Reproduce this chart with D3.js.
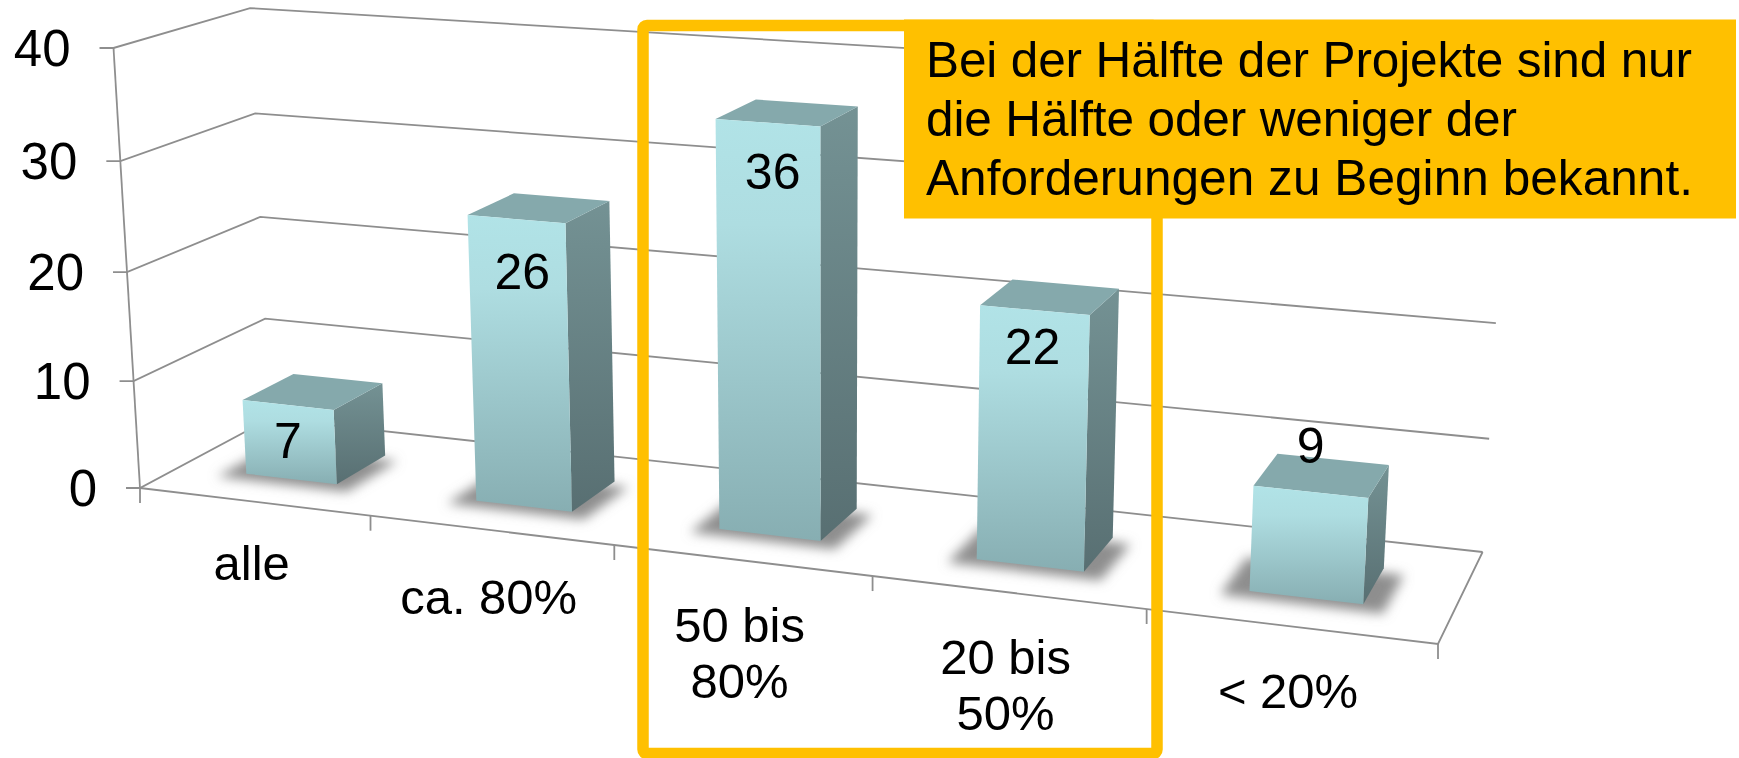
<!DOCTYPE html>
<html>
<head>
<meta charset="utf-8">
<script src="https://cdn.jsdelivr.net/npm/d3@7"></script>
<style>
  html, body { margin: 0; padding: 0; background: #fff; overflow: hidden; }
  text { font-family: "Liberation Sans", Arial, sans-serif; fill: #000; }
</style>
</head>
<body>
<div id="chart"></div>
<script>
const categories = ["alle", "ca. 80%", "50 bis\n80%", "20 bis\n50%", "< 20%"];
const values = [7, 26, 36, 22, 9];
const yTicks = [0, 10, 20, 30, 40];
const noteLines = [
  "Bei der Hälfte der Projekte sind nur",
  "die Hälfte oder weniger der",
  "Anforderungen zu Beginn bekannt."
];

const width = 1739;
const height = 758;

const svg = d3.select("#chart").append("svg")
  .attr("width", width)
  .attr("height", height)
  .style("display", "block");

// maps the unit square on the floor quad, returns x, y and the perspective weight
function quadMap(p0, p1, p2, p3) {
  const dx1 = p1[0] - p2[0], dx2 = p3[0] - p2[0], sx = p0[0] - p1[0] + p2[0] - p3[0];
  const dy1 = p1[1] - p2[1], dy2 = p3[1] - p2[1], sy = p0[1] - p1[1] + p2[1] - p3[1];
  const det = dx1 * dy2 - dx2 * dy1;
  const g = (sx * dy2 - dx2 * sy) / det;
  const h = (dx1 * sy - sx * dy1) / det;
  const a = p1[0] - p0[0] + g * p1[0], b = p3[0] - p0[0] + h * p3[0];
  const d = p1[1] - p0[1] + g * p1[1], e = p3[1] - p0[1] + h * p3[1];
  return (u, w) => ({ xw: a * u + b * w + p0[0], yw: d * u + e * w + p0[1], q: g * u + h * w + 1 });
}

// corners: front left, front right, back right, back left
const floorMap = quadMap([140, 488], [1438, 644], [1482.6, 552], [270, 418.6]);
// vertical edges run towards this point far below the chart
const vanish = [826, 11886];

const x = d3.scaleBand().domain(categories).range([0, 1])
  .paddingInner(0.6).paddingOuter(0.3).align(0.49);
const y = d3.scaleLinear().domain([0, 40]).range([0, -0.03717]);
const depth = d3.scaleLinear().domain([0, 1]).range([0.3, 0.7]);

function project(u, w, v) {
  const p = floorMap(u, w);
  const k = y(v);
  return [(p.xw + k * vanish[0]) / (p.q + k), (p.yw + k * vanish[1]) / (p.q + k)];
}

const defs = svg.append("defs");

const frontGrad = defs.append("linearGradient").attr("id", "front")
  .attr("x1", 0).attr("y1", 0).attr("x2", 0).attr("y2", 1);
frontGrad.append("stop").attr("offset", "0").attr("stop-color", "#b1e3e7");
frontGrad.append("stop").attr("offset", "0.25").attr("stop-color", "#aedde1");
frontGrad.append("stop").attr("offset", "1").attr("stop-color", "#87aeb2");

const sideGrad = defs.append("linearGradient").attr("id", "side")
  .attr("x1", 0).attr("y1", 0).attr("x2", 0).attr("y2", 1);
sideGrad.append("stop").attr("offset", "0").attr("stop-color", "#749294");
sideGrad.append("stop").attr("offset", "1").attr("stop-color", "#586f72");

defs.append("filter").attr("id", "soft")
  .attr("x", "-20%").attr("y", "-40%").attr("width", "140%").attr("height", "180%")
  .append("feGaussianBlur").attr("stdDeviation", 6);

const gridColor = "#8e8e8e";
const line = d3.line();
const grid = svg.append("g").attr("fill", "none").attr("stroke", gridColor).attr("stroke-width", 1.8);

// back wall, side wall and their tick marks
yTicks.forEach(v => {
  const front = project(0, 0, v);
  grid.append("path").attr("d", line([
    [front[0] - 14, front[1]], front, project(0, 1, v), project(1, 1, v)
  ]));
});
grid.append("path").attr("d", line([project(0, 0, 0), project(0, 0, 40)]));

// floor edges and category ticks
grid.append("path").attr("d", line([project(0, 0, 0), project(1, 0, 0), project(1, 1, 0)]));
d3.range(categories.length + 1).forEach(i => {
  const p = project(i * x.step(), 0, 0);
  grid.append("path").attr("d", line([p, [p[0], p[1] + 15]]));
});

const yLabels = svg.append("g").attr("font-size", 51).attr("text-anchor", "end");
yLabels.selectAll("text").data(yTicks).join("text")
  .attr("x", d => project(0, 0, d)[0] - 43)
  .attr("y", d => project(0, 0, d)[1] + 18)
  .text(d => d);

// bars
const bars = svg.append("g").selectAll("g")
  .data(categories.map((c, i) => ({ c: c, v: values[i] })))
  .join("g");

const poly = pts => line(pts) + "Z";

bars.append("path")
  .attr("d", d => {
    const u0 = x(d.c) - x.bandwidth() * 0.22, u1 = x(d.c) + x.bandwidth() * 1.2;
    const w0 = depth(0) - 0.07, w1 = depth(1) - 0.05;
    return poly([project(u0, w0, 0), project(u1, w0, 0), project(u1, w1, 0), project(u0, w1, 0)]);
  })
  .attr("fill", "#8e8e8e")
  .attr("filter", "url(#soft)");

bars.append("path")
  .attr("d", d => {
    const u1 = x(d.c) + x.bandwidth();
    return poly([project(u1, depth(0), d.v), project(u1, depth(1), d.v), project(u1, depth(1), 0), project(u1, depth(0), 0)]);
  })
  .attr("fill", "url(#side)");

bars.append("path")
  .attr("d", d => {
    const u0 = x(d.c), u1 = u0 + x.bandwidth();
    return poly([project(u0, depth(0), d.v), project(u1, depth(0), d.v), project(u1, depth(1), d.v), project(u0, depth(1), d.v)]);
  })
  .attr("fill", "#85a9ac");

bars.append("path")
  .attr("d", d => {
    const u0 = x(d.c), u1 = u0 + x.bandwidth();
    return poly([project(u0, depth(0), d.v), project(u1, depth(0), d.v), project(u1, depth(0), 0), project(u0, depth(0), 0)]);
  })
  .attr("fill", "url(#front)");

// value labels, the small one sits above its bar
const labelDx = [0, 6, 5, -2, 0];
const labelDy = [53, 70, 66, 54, -29];
bars.append("text")
  .attr("font-size", 50)
  .attr("text-anchor", "middle")
  .attr("x", (d, i) => project(x(d.c) + x.bandwidth() / 2, depth(0), d.v)[0] + labelDx[i])
  .attr("y", (d, i) => project(x(d.c) + x.bandwidth() / 2, depth(0), d.v)[1] + labelDy[i])
  .text(d => d.v);

// category labels
const catDy = [78, 84, 82, 82, 82];
const catLabels = svg.append("g").attr("font-size", 49).attr("text-anchor", "middle");
categories.forEach((c, i) => {
  const p = project((i + 0.5) * x.step(), 0, 0);
  const t = catLabels.append("text");
  c.split("\n").forEach((s, k) => {
    t.append("tspan").attr("x", p[0] - 2).attr("y", p[1] + catDy[i] + k * 56).text(s);
  });
});

// highlight frame and note
svg.append("rect")
  .attr("x", 643).attr("y", 25.5).attr("width", 514).attr("height", 728)
  .attr("rx", 4)
  .attr("fill", "none").attr("stroke", "#ffc000").attr("stroke-width", 11.5);

svg.append("rect")
  .attr("x", 904).attr("y", 19.5).attr("width", 832).attr("height", 199)
  .attr("fill", "#ffc000");

const noteWidths = [766, 591, 767];
svg.append("g").attr("font-size", 49.5).selectAll("text")
  .data(noteLines).join("text")
  .attr("x", 926)
  .attr("y", (d, i) => 76.7 + i * 59.2)
  .attr("textLength", (d, i) => noteWidths[i])
  .text(d => d);
</script>
</body>
</html>
